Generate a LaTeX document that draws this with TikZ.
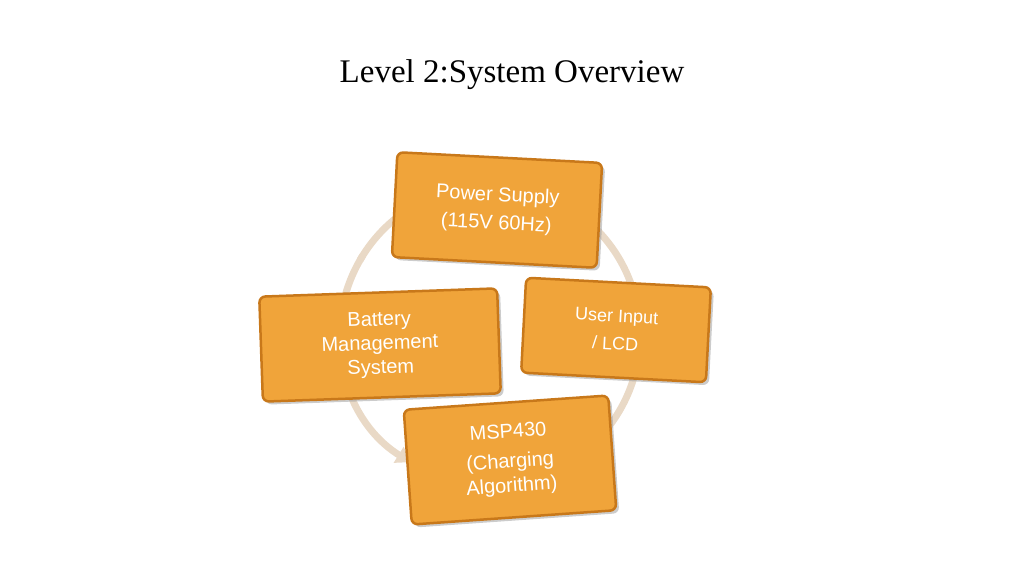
\documentclass[tikz,border=0pt]{standalone}
\usepackage{fontspec}
\setmainfont{Liberation Serif}
\newfontfamily\boxfont{Liberation Sans}
\usetikzlibrary{arrows.meta,shadows}
\definecolor{boxfill}{HTML}{F0A43A}
\definecolor{boxedge}{HTML}{C8781A}
\definecolor{ringcol}{HTML}{E9D9C6}
\begin{document}
\begin{tikzpicture}[x=1pt,y=-1pt,
  stagebox/.style={draw=boxedge,line width=2.5pt,fill=boxfill,rounded corners=6pt,
    align=center,font=\boxfont\fontsize{20}{24}\selectfont,text=white,
    drop shadow={shadow xshift=3pt,shadow yshift=-3pt,fill=black!40,opacity=0.5},inner sep=0pt}]
\useasboundingbox (0,0) rectangle (1024,576);
\node (title) at (512,75) {\fontsize{33}{38}\selectfont Level 2:System Overview};
\coordinate (c) at (490,335);
\draw[ringcol,line width=7pt,-{Triangle[length=14pt,width=18pt]}] (c) ++(-148:150) arc[start angle=-148,end angle=-238,radius=150];
\draw[ringcol,line width=7pt] (c) ++(-238:150) arc[start angle=122,end angle=-150,radius=150];
\node[stagebox,minimum width=205pt,minimum height=105pt,rotate=-3] (ps) at (497,210) {Power Supply\\[4pt](115V 60Hz)};
\node[stagebox,minimum width=238pt,minimum height=105pt,rotate=2] (bm) at (380,345) {Battery\\Management\\System};
\node[stagebox,minimum width=185pt,minimum height=95pt,rotate=-3,font=\boxfont\fontsize{18}{22}\selectfont] (ui) at (616,330) {User Input\\[6pt]/ LCD};
\node[stagebox,minimum width=205pt,minimum height=115pt,rotate=4] (msp) at (510,460) {MSP430\\[6pt](Charging\\Algorithm)};
\end{tikzpicture}
\end{document}
